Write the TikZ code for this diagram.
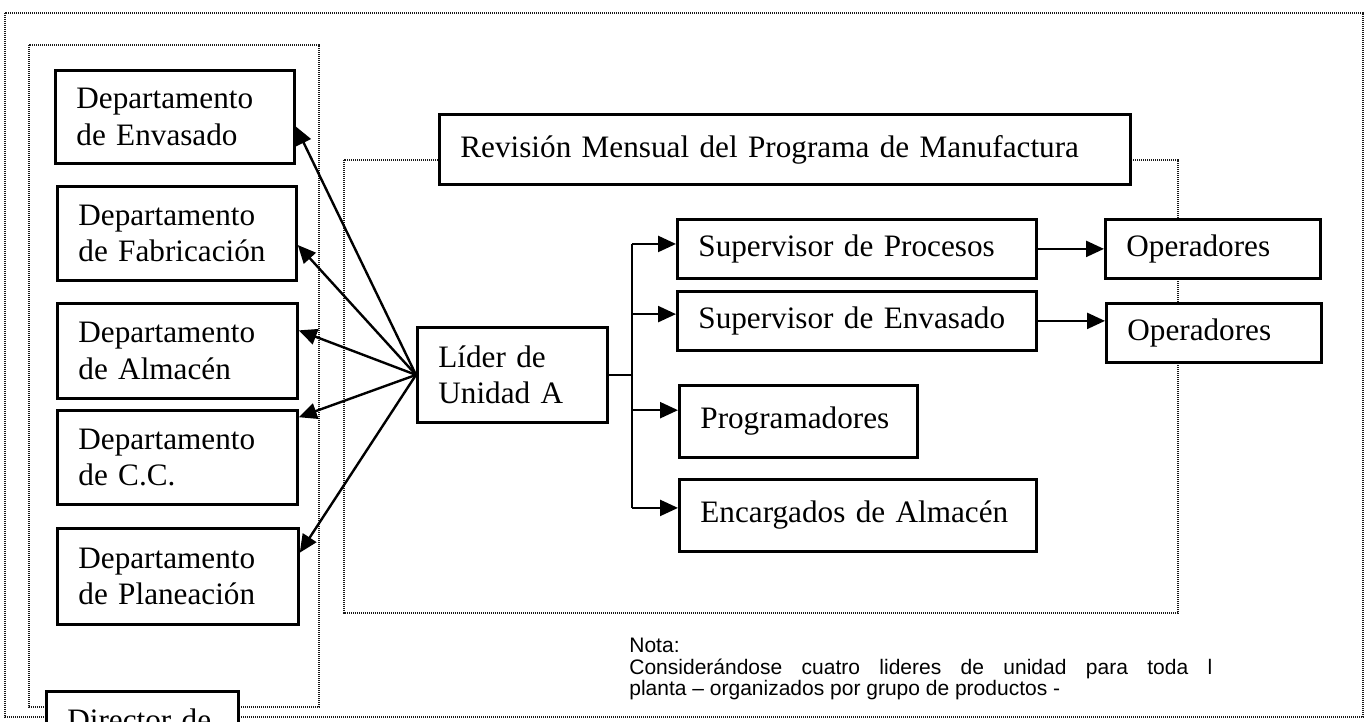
\documentclass[tikz,border=0pt]{standalone}
\usepackage{fontspec}
\setmainfont{Liberation Serif}
\newfontfamily\notafont{Liberation Sans}
\usetikzlibrary{calc,positioning,arrows.meta}
\tikzstyle{caja}=[draw,fill=white,line width=1.4pt,anchor=north west,align=left,inner xsep=10.5pt,inner ysep=0pt,font=\fontsize{15.6}{18.25}\selectfont]
\tikzstyle{marco}=[line width=1.1pt,dash pattern=on 0.6pt off 0.4pt,black!90]
\tikzstyle{flecha}=[line width=1.2pt,-{Triangle[length=9pt,width=8pt]}]
\newcommand{\bloque}[5]{\node[caja,text width=#3,minimum height=#4] (#1) at (#2) {#5};}
\newcommand{\dep}[2]{\draw[flecha] (lider.west) -- ($(#1.north east)!#2!(#1.south east)$);}
\tikzset{
	x=0.5pt,y=-0.5pt
}

\begin{document}
\begin{tikzpicture}

    \useasboundingbox (0,0) rectangle (1370,722);
    \clip (0,0) rectangle (1370,722);

    \draw[marco] (5,13) rectangle (1363,717);
    \draw[marco] (29,45) rectangle (319,707);
    \draw[marco] (344,160) rectangle (1178,613);

    \bloque{env}{54,69}{98.5pt}{46.5pt}{Departamento\\de Envasado}
    \bloque{fab}{56,185}{98.5pt}{47pt}{Departamento\\de Fabricación}
    \bloque{alm}{56,302}{99pt}{47.5pt}{Departamento\\de Almacén}
    \bloque{cc}{56,409}{99pt}{47pt}{Departamento\\de C.C.}
    \bloque{plan}{56,527}{99.5pt}{48pt}{Departamento\\de Planeación}
    \node[caja,text width=75pt,inner ysep=8.5pt,minimum width=88.5pt] (dir) at (45,690) {Director de};

    \bloque{rev}{438,113}{324.5pt}{35pt}{Revisión Mensual del Programa de Manufactura}
    \bloque{lider}{416,326}{74pt}{47.5pt}{Líder de\\Unidad A}

    \bloque{supproc}{676,218}{158.5pt}{29.5pt}{Supervisor de Procesos}
    \bloque{supenv}{676,290}{158.5pt}{29.5pt}{Supervisor de Envasado}
    \bloque{prog}{678,384}{98pt}{36pt}{Programadores}
    \bloque{enc}{678,478}{157.5pt}{36pt}{Encargados de Almacén}

    \bloque{op1}{1104,218}{86.5pt}{29.5pt}{Operadores}
    \bloque{op2}{1105,302}{86.5pt}{29.5pt}{Operadores}

    \dep{env}{0.6}
    \dep{fab}{0.62}
    \dep{alm}{0.29}
    \dep{cc}{0.085}
    \dep{plan}{0.26}

    \coordinate (bus) at ([xshift=11.5pt]lider.east);
    \draw[line width=1.2pt] (lider.east) -- (bus);
    \foreach \n/\f in {supproc/0.42,supenv/0.39,prog/0.35,enc/0.4}{
        \coordinate (\n-in) at ($(\n.north west)!\f!(\n.south west)$);
        \draw[flecha] (bus |- \n-in) -- (\n-in);
    }
    \draw[line width=1.2pt] (bus |- supproc-in) -- (bus |- enc-in);

    \draw[flecha] (supproc.east) -- (supproc.east -| op1.west);
    \draw[flecha] (supenv.east) -- (supenv.east -| op2.west);

    \node[anchor=north west,inner sep=0pt,text width=291.5pt,align=justify,font=\notafont\fontsize{10.5}{10.75}\selectfont] (nota) at (629,638)
        {Nota:\\Considerándose cuatro lideres de unidad para toda l\linebreak planta – organizados por grupo de productos -};
\end{tikzpicture}
\end{document}
